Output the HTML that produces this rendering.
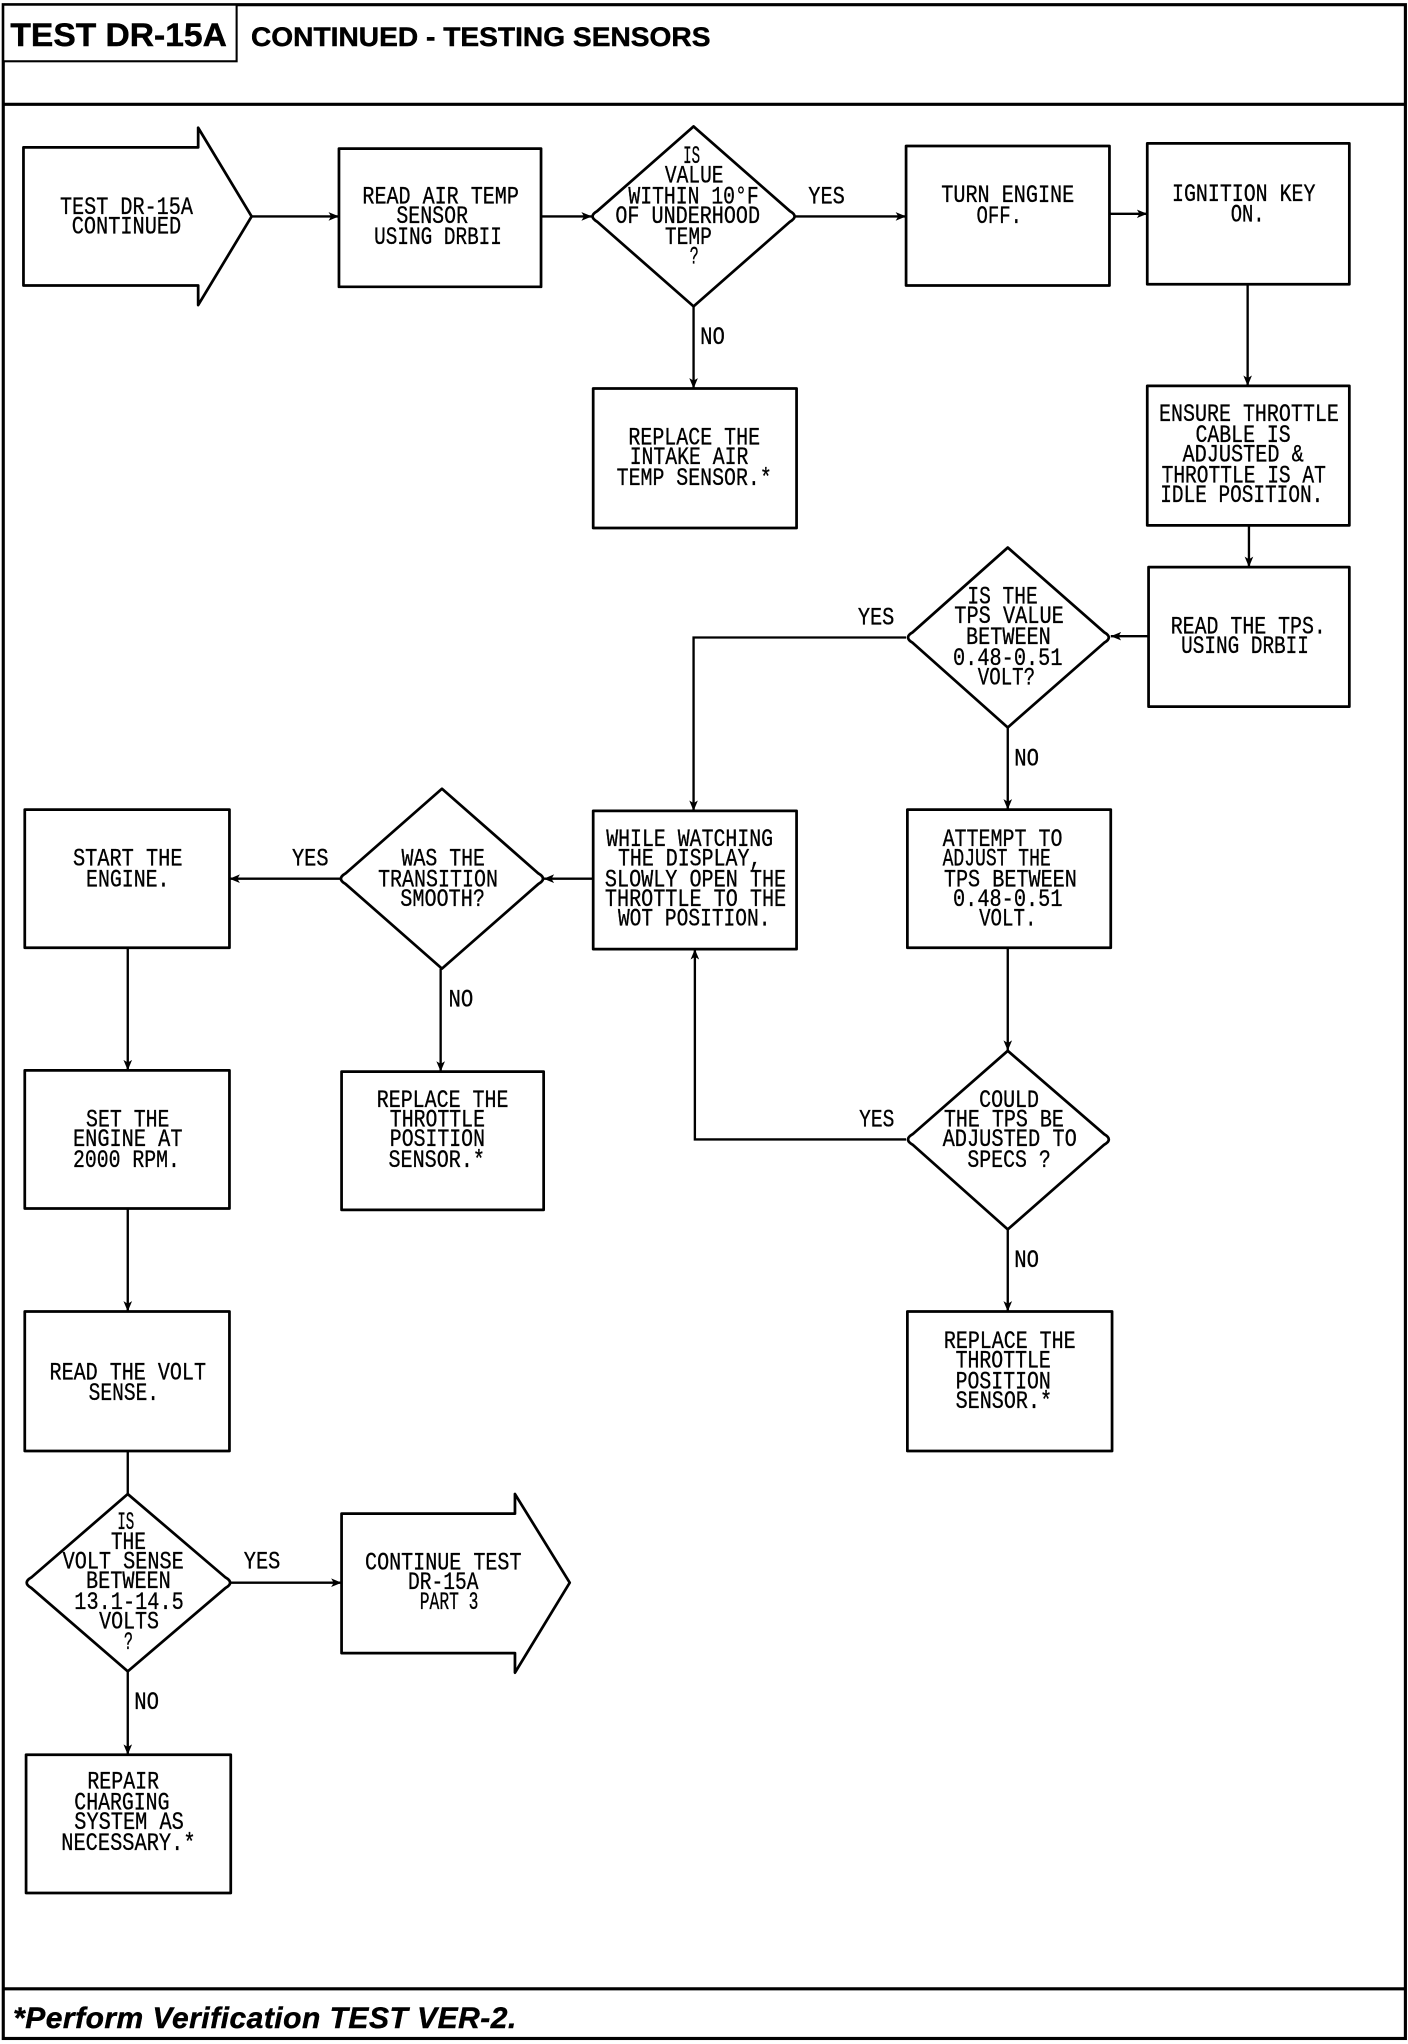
<!DOCTYPE html>
<html><head><meta charset="utf-8"><style>
html,body{margin:0;padding:0;background:#fff}
svg{display:block}
text{font-family:"Liberation Sans",sans-serif;fill:#000}
.t text{font-family:"Liberation Mono",monospace;font-size:19.5px;stroke:#000;stroke-width:.25}
.b{font-weight:bold;stroke:#000;stroke-width:.35}
.s{fill:#fff;stroke:#000;stroke-width:2.1;stroke-linejoin:round}
.l{fill:none;stroke:#000;stroke-width:1.8;marker-end:url(#a)}
.n{fill:none;stroke:#000;stroke-width:1.8}
</style></head><body>
<svg xmlns="http://www.w3.org/2000/svg" width="1408" height="2044" viewBox="0 0 1080 1567.84">
<defs><marker id="a" markerUnits="userSpaceOnUse" markerWidth="10" markerHeight="10" refX="8" refY="4" orient="auto"><path d="M0 .7L8 4L0 7.3L2 4Z" fill="#000"/></marker></defs>
<rect width="1080" height="1568" fill="#fff"/>
<rect x="2.5" y="3.6" width="1075.5" height="1560" fill="none" stroke="#000" stroke-width="2.4"/>
<path d="M2.5 80H1078M2.5 1525.5H1078" fill="none" stroke="#000" stroke-width="2.4"/>
<rect x="2.5" y="3.6" width="179" height="43.4" fill="#fff" stroke="#000" stroke-width="1.6"/>
<text class="b" x="8" y="35.3" font-size="25" textLength="166" lengthAdjust="spacingAndGlyphs">TEST DR-15A</text>
<text class="b" x="192.5" y="35.3" font-size="20.5" textLength="352.5" lengthAdjust="spacingAndGlyphs">CONTINUED - TESTING SENSORS</text>
<text class="b" x="10" y="1555.5" font-size="23" font-style="italic" textLength="386" lengthAdjust="spacing">*Perform Verification TEST VER-2.</text>

<!-- connectors -->
<path class="l" d="M193 166H260"/>
<path class="l" d="M415 166H454"/>
<path class="l" d="M610 166H695"/>
<path class="l" d="M851 164H880"/>
<path class="l" d="M532 235V298"/>
<path class="l" d="M957 218V296"/>
<path class="l" d="M958 403V435"/>
<path class="l" d="M881 488H852"/>
<path class="l" d="M695 489H532V622"/>
<path class="l" d="M773 558V621"/>
<path class="l" d="M773 727V806"/>
<path class="l" d="M695 874H533V728"/>
<path class="l" d="M773 943V1006"/>
<path class="l" d="M455 674H417"/>
<path class="l" d="M261 674H176"/>
<path class="l" d="M338 743V822"/>
<path class="l" d="M98 727V821"/>
<path class="l" d="M98 927V1006"/>
<path class="n" d="M98 1113V1146"/>
<path class="l" d="M177 1214H262"/>
<path class="l" d="M98 1282V1346"/>

<!-- shapes -->
<path class="s" d="M18 113H152V98L193 166L152 234V219H18Z"/>
<path class="s" d="M262 1161H395V1146L437 1214L395 1283V1268H262Z"/>
<rect class="s" x="260" y="114" width="155" height="106"/>
<rect class="s" x="695" y="112" width="156" height="107"/>
<rect class="s" x="880" y="110" width="155" height="108"/>
<rect class="s" x="455" y="298" width="156" height="107"/>
<rect class="s" x="880" y="296" width="155" height="107"/>
<rect class="s" x="881" y="435" width="154" height="107"/>
<rect class="s" x="696" y="621" width="156" height="106"/>
<rect class="s" x="455" y="622" width="156" height="106"/>
<rect class="s" x="19" y="621" width="157" height="106"/>
<rect class="s" x="262" y="822" width="155" height="106"/>
<rect class="s" x="19" y="821" width="157" height="106"/>
<rect class="s" x="696" y="1006" width="157" height="107"/>
<rect class="s" x="19" y="1006" width="157" height="107"/>
<rect class="s" x="20" y="1346" width="157" height="106"/>
<path class="s" d="M532 97L606 162Q613 166 606 170L532 235L458 170Q451 166 458 162Z"/>
<path class="s" d="M773 420L847 485Q854 489 847 493L773 558L700 493Q693 489 700 485Z"/>
<path class="s" d="M773 806L847 870Q854 874 847 878L773 943L700 878Q693 874 700 870Z"/>
<path class="s" d="M339 605L413 670Q420 674 413 678L339 743L265 678Q258 674 265 670Z"/>
<path class="s" d="M98 1146L173 1210Q180 1214 173 1218L98 1282L24 1218Q17 1214 24 1210Z"/>

<!-- labels -->
<g class="t" transform="translate(0,-1)">
<text x="46" y="165" textLength="102" lengthAdjust="spacingAndGlyphs">TEST DR-15A</text>
<text x="55" y="180" textLength="84" lengthAdjust="spacingAndGlyphs">CONTINUED</text>
<text x="278" y="157" textLength="120" lengthAdjust="spacingAndGlyphs">READ AIR TEMP</text>
<text x="304" y="172" textLength="55" lengthAdjust="spacingAndGlyphs">SENSOR</text>
<text x="287" y="188" textLength="98" lengthAdjust="spacingAndGlyphs">USING DRBII</text>
<text x="524" y="126" textLength="13" lengthAdjust="spacingAndGlyphs">IS</text>
<text x="510" y="141" textLength="45" lengthAdjust="spacingAndGlyphs">VALUE</text>
<text x="482" y="157" textLength="100" lengthAdjust="spacingAndGlyphs">WITHIN 10°F</text>
<text x="472" y="172" textLength="111" lengthAdjust="spacingAndGlyphs">OF UNDERHOOD</text>
<text x="510" y="188" textLength="36" lengthAdjust="spacingAndGlyphs">TEMP</text>
<text x="529" y="203" textLength="7" lengthAdjust="spacingAndGlyphs">?</text>
<text x="620" y="157" textLength="28" lengthAdjust="spacingAndGlyphs">YES</text>
<text x="537" y="265" textLength="19" lengthAdjust="spacingAndGlyphs">NO</text>
<text x="722" y="156" textLength="102" lengthAdjust="spacingAndGlyphs">TURN ENGINE</text>
<text x="749" y="172" textLength="35" lengthAdjust="spacingAndGlyphs">OFF.</text>
<text x="899" y="155" textLength="110" lengthAdjust="spacingAndGlyphs">IGNITION KEY</text>
<text x="944" y="171" textLength="26" lengthAdjust="spacingAndGlyphs">ON.</text>
<text x="482" y="342" textLength="101" lengthAdjust="spacingAndGlyphs">REPLACE THE</text>
<text x="483" y="357" textLength="91" lengthAdjust="spacingAndGlyphs">INTAKE AIR</text>
<text x="473" y="373" textLength="119" lengthAdjust="spacingAndGlyphs">TEMP SENSOR.*</text>
<text x="889" y="324" textLength="138" lengthAdjust="spacingAndGlyphs">ENSURE THROTTLE</text>
<text x="917" y="340" textLength="73" lengthAdjust="spacingAndGlyphs">CABLE IS</text>
<text x="907" y="355" textLength="93" lengthAdjust="spacingAndGlyphs">ADJUSTED &amp;</text>
<text x="891" y="371" textLength="126" lengthAdjust="spacingAndGlyphs">THROTTLE IS AT</text>
<text x="890" y="386" textLength="125" lengthAdjust="spacingAndGlyphs">IDLE POSITION.</text>
<text x="898" y="487" textLength="119" lengthAdjust="spacingAndGlyphs">READ THE TPS.</text>
<text x="906" y="502" textLength="98" lengthAdjust="spacingAndGlyphs">USING DRBII</text>
<text x="742" y="464" textLength="54" lengthAdjust="spacingAndGlyphs">IS THE</text>
<text x="732" y="479" textLength="84" lengthAdjust="spacingAndGlyphs">TPS VALUE</text>
<text x="741" y="495" textLength="65" lengthAdjust="spacingAndGlyphs">BETWEEN</text>
<text x="731" y="511" textLength="84" lengthAdjust="spacingAndGlyphs">0.48-0.51</text>
<text x="750" y="526" textLength="44" lengthAdjust="spacingAndGlyphs">VOLT?</text>
<text x="658" y="480" textLength="28" lengthAdjust="spacingAndGlyphs">YES</text>
<text x="778" y="588" textLength="19" lengthAdjust="spacingAndGlyphs">NO</text>
<text x="723" y="650" textLength="92" lengthAdjust="spacingAndGlyphs">ATTEMPT TO</text>
<text x="723" y="665" textLength="83" lengthAdjust="spacingAndGlyphs">ADJUST THE</text>
<text x="724" y="681" textLength="102" lengthAdjust="spacingAndGlyphs">TPS BETWEEN</text>
<text x="731" y="696" textLength="84" lengthAdjust="spacingAndGlyphs">0.48-0.51</text>
<text x="751" y="711" textLength="44" lengthAdjust="spacingAndGlyphs">VOLT.</text>
<text x="465" y="650" textLength="128" lengthAdjust="spacingAndGlyphs">WHILE WATCHING</text>
<text x="474" y="665" textLength="110" lengthAdjust="spacingAndGlyphs">THE DISPLAY,</text>
<text x="464" y="681" textLength="139" lengthAdjust="spacingAndGlyphs">SLOWLY OPEN THE</text>
<text x="464" y="696" textLength="139" lengthAdjust="spacingAndGlyphs">THROTTLE TO THE</text>
<text x="474" y="711" textLength="117" lengthAdjust="spacingAndGlyphs">WOT POSITION.</text>
<text x="308" y="665" textLength="64" lengthAdjust="spacingAndGlyphs">WAS THE</text>
<text x="290" y="681" textLength="92" lengthAdjust="spacingAndGlyphs">TRANSITION</text>
<text x="307" y="696" textLength="65" lengthAdjust="spacingAndGlyphs">SMOOTH?</text>
<text x="56" y="665" textLength="84" lengthAdjust="spacingAndGlyphs">START THE</text>
<text x="66" y="681" textLength="64" lengthAdjust="spacingAndGlyphs">ENGINE.</text>
<text x="224" y="665" textLength="28" lengthAdjust="spacingAndGlyphs">YES</text>
<text x="344" y="773" textLength="19" lengthAdjust="spacingAndGlyphs">NO</text>
<text x="289" y="850" textLength="101" lengthAdjust="spacingAndGlyphs">REPLACE THE</text>
<text x="299" y="865" textLength="73" lengthAdjust="spacingAndGlyphs">THROTTLE</text>
<text x="299" y="880" textLength="73" lengthAdjust="spacingAndGlyphs">POSITION</text>
<text x="298" y="896" textLength="74" lengthAdjust="spacingAndGlyphs">SENSOR.*</text>
<text x="66" y="865" textLength="64" lengthAdjust="spacingAndGlyphs">SET THE</text>
<text x="56" y="880" textLength="84" lengthAdjust="spacingAndGlyphs">ENGINE AT</text>
<text x="56" y="896" textLength="82" lengthAdjust="spacingAndGlyphs">2000 RPM.</text>
<text x="751" y="850" textLength="46" lengthAdjust="spacingAndGlyphs">COULD</text>
<text x="724" y="865" textLength="92" lengthAdjust="spacingAndGlyphs">THE TPS BE</text>
<text x="723" y="880" textLength="103" lengthAdjust="spacingAndGlyphs">ADJUSTED TO</text>
<text x="742" y="896" textLength="64" lengthAdjust="spacingAndGlyphs">SPECS ?</text>
<text x="659" y="865" textLength="27" lengthAdjust="spacingAndGlyphs">YES</text>
<text x="778" y="973" textLength="19" lengthAdjust="spacingAndGlyphs">NO</text>
<text x="724" y="1035" textLength="101" lengthAdjust="spacingAndGlyphs">REPLACE THE</text>
<text x="733" y="1050" textLength="73" lengthAdjust="spacingAndGlyphs">THROTTLE</text>
<text x="733" y="1066" textLength="73" lengthAdjust="spacingAndGlyphs">POSITION</text>
<text x="733" y="1081" textLength="74" lengthAdjust="spacingAndGlyphs">SENSOR.*</text>
<text x="38" y="1059" textLength="120" lengthAdjust="spacingAndGlyphs">READ THE VOLT</text>
<text x="68" y="1075" textLength="54" lengthAdjust="spacingAndGlyphs">SENSE.</text>
<text x="90" y="1174" textLength="13" lengthAdjust="spacingAndGlyphs">IS</text>
<text x="85" y="1189" textLength="27" lengthAdjust="spacingAndGlyphs">THE</text>
<text x="48" y="1204" textLength="93" lengthAdjust="spacingAndGlyphs">VOLT SENSE</text>
<text x="66" y="1219" textLength="65" lengthAdjust="spacingAndGlyphs">BETWEEN</text>
<text x="57" y="1235" textLength="84" lengthAdjust="spacingAndGlyphs">13.1-14.5</text>
<text x="76" y="1250" textLength="46" lengthAdjust="spacingAndGlyphs">VOLTS</text>
<text x="95" y="1266" textLength="7" lengthAdjust="spacingAndGlyphs">?</text>
<text x="187" y="1204" textLength="28" lengthAdjust="spacingAndGlyphs">YES</text>
<text x="103" y="1312" textLength="19" lengthAdjust="spacingAndGlyphs">NO</text>
<text x="280" y="1205" textLength="120" lengthAdjust="spacingAndGlyphs">CONTINUE TEST</text>
<text x="313" y="1220" textLength="54" lengthAdjust="spacingAndGlyphs">DR-15A</text>
<text x="322" y="1235" textLength="45" lengthAdjust="spacingAndGlyphs">PART 3</text>
<text x="67" y="1373" textLength="55" lengthAdjust="spacingAndGlyphs">REPAIR</text>
<text x="57" y="1389" textLength="73" lengthAdjust="spacingAndGlyphs">CHARGING</text>
<text x="57" y="1404" textLength="84" lengthAdjust="spacingAndGlyphs">SYSTEM AS</text>
<text x="47" y="1420" textLength="103" lengthAdjust="spacingAndGlyphs">NECESSARY.*</text>
</g>
</svg>
</body></html>
